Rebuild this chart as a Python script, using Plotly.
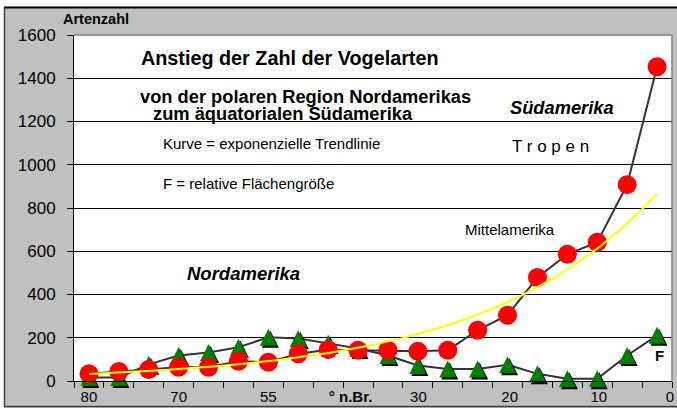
import numpy as np
import plotly.graph_objects as go

# ---- data ----
categories = list(range(1, 21))          # category slots along the latitude axis (north -> equator)
arten = [33, 44, 53, 64, 64, 91, 87, 126, 145, 142, 142, 137, 142, 235, 304, 479, 586, 642, 908, 1453]
flaeche = [16, 16, 77, 118, 132, 156, 202, 197, 174, 150, 118, 72, 56, 56, 75, 33, 10, 10, 118, 211]
tick_labels = ["80", "70", "55", "<b>° n.Br.</b>", "30", "20", "10", "0"]
tick_slots = [1, 4, 7, 9.75, 12.02, 15.07, 18.05, 20.43]

# exponential trend line (least squares on log values, as Excel does)
b, a = np.polyfit(categories, np.log(arten), 1)
x_fit = np.linspace(1, 20, 200)
y_fit = np.exp(a + b * x_fit)

# ---- geometry ----
W, H = 677, 408
L, R, T, B = 74, 5, 35, 27
PW, PH = W - L - R, H - T - B
XR = [0.5, 20.5]
YR = [0, 1600]
kx = (XR[1] - XR[0]) / PW
ky = (YR[1] - YR[0]) / PH
TRI = 17            # triangle marker size (px)
SH = 2              # shadow offset (px)

FONT = "Arial, Liberation Sans, sans-serif"
DARK = "#333333"


def P(px, py):
    return (px - L) / PW, ((H - B) - py) / PH


fig = go.Figure()

# triangle series connecting line (base axes)
fig.add_trace(go.Scatter(x=categories, y=flaeche, mode="lines",
                         line=dict(color=DARK, width=2), cliponaxis=False,
                         hoverinfo="skip", showlegend=False))
# triangle shadows
fig.add_trace(go.Scatter(x=categories, y=flaeche, mode="markers", xaxis="x2", yaxis="y2",
                         marker=dict(symbol="arrow-up", size=TRI, color="black", line=dict(width=0)),
                         cliponaxis=False, hoverinfo="skip", showlegend=False))
# triangles
fig.add_trace(go.Scatter(x=categories, y=flaeche, mode="markers", xaxis="x3", yaxis="y3",
                         marker=dict(symbol="arrow-up", size=TRI, color="#008000", line=dict(width=0)),
                         cliponaxis=False, name="F", showlegend=False))
# species count
fig.add_trace(go.Scatter(x=categories, y=arten, mode="lines+markers", xaxis="x4", yaxis="y4",
                         line=dict(color=DARK, width=2),
                         marker=dict(symbol="circle", size=19, color="#ff0000", line=dict(width=0)),
                         cliponaxis=False, name="Artenzahl", showlegend=False))
# trend line
fig.add_trace(go.Scatter(x=x_fit, y=y_fit, mode="lines", xaxis="x4", yaxis="y4",
                         line=dict(color="#ffff00", width=2), cliponaxis=False,
                         hoverinfo="skip", showlegend=False))

s_tri = (TRI / 2) * ky
s_sh = (TRI / 2 - SH) * ky

hidden = dict(visible=False, showgrid=False, zeroline=False, fixedrange=True, automargin=False)
fig.update_layout(
    template="none",
    width=W, height=H,
    margin=dict(l=L, r=R, t=T, b=B, pad=0, autoexpand=False),
    paper_bgcolor="#c0c0c0", plot_bgcolor="white",
    font=dict(family=FONT, color="black"),
    showlegend=False,
    xaxis=dict(range=XR, automargin=False, showgrid=False, zeroline=False, showline=True,
               linecolor="black", linewidth=1, fixedrange=True,
               tickmode="array", tickvals=tick_slots, ticktext=tick_labels, ticks="",
               tickfont=dict(size=15, family=FONT, color="black"),
               minor=dict(tickmode="array", tickvals=[i + 0.5 for i in range(0, 21)],
                          ticks="outside", ticklen=6, tickcolor="black", tickwidth=1, showgrid=False),
               ticklabelstandoff=2),
    yaxis=dict(range=YR, automargin=False, tickmode="array", tickvals=list(range(0, 1601, 200)),
               showgrid=True, gridcolor="black", gridwidth=1, zeroline=False, fixedrange=True,
               showline=True, linecolor="black", linewidth=1,
               ticks="outside", ticklen=6, tickcolor="black", ticklabelstandoff=8,
               tickfont=dict(size=17, family=FONT, color="black")),
    xaxis2=dict(overlaying="x", range=[XR[0] - SH * kx, XR[1] - SH * kx], **hidden),
    yaxis2=dict(overlaying="y", range=[YR[0] - s_sh, YR[1] - s_sh], **hidden),
    xaxis3=dict(overlaying="x", range=XR, **hidden),
    yaxis3=dict(overlaying="y", range=[YR[0] - s_tri, YR[1] - s_tri], **hidden),
    xaxis4=dict(overlaying="x", range=XR, **hidden),
    yaxis4=dict(overlaying="y", range=YR, **hidden),
)

# chart frame: white margins outside the grey chart area, dark border lines
shapes = []
x0, y0 = P(0, 0)
x1, y1 = P(W, 7)
shapes.append(dict(type="rect", xref="paper", yref="paper", x0=x0, x1=x1, y0=y0, y1=y1,
                   fillcolor="white", line=dict(width=0), layer="below"))
x0, y0 = P(0, 0)
x1, y1 = P(4, H)
shapes.append(dict(type="rect", xref="paper", yref="paper", x0=x0, x1=x1, y0=y0, y1=y1,
                   fillcolor="white", line=dict(width=0), layer="below"))
xa, ya = P(4, 7.5)
xb, _ = P(W, 7.5)
shapes.append(dict(type="line", xref="paper", yref="paper", x0=xa, x1=xb, y0=ya, y1=ya,
                   line=dict(color="black", width=2), layer="below"))
xa, ya = P(4.5, 7)
_, yb = P(4.5, H - 1.5)
shapes.append(dict(type="line", xref="paper", yref="paper", x0=xa, x1=xa, y0=ya, y1=yb,
                   line=dict(color="#404040", width=1.5), layer="below"))
xa, ya = P(4, H - 1.5)
xb, _ = P(W, H - 1.5)
shapes.append(dict(type="line", xref="paper", yref="paper", x0=xa, x1=xb, y0=ya, y1=ya,
                   line=dict(color="#404040", width=1.5), layer="below"))
# plot area border (top and right in grey)
shapes.append(dict(type="line", xref="paper", yref="paper", x0=0, x1=1, y0=1, y1=1,
                   line=dict(color="#808080", width=1.5), layer="above"))
shapes.append(dict(type="line", xref="paper", yref="paper", x0=1, x1=1, y0=0, y1=1,
                   line=dict(color="#808080", width=1.5), layer="above"))
fig.update_layout(shapes=shapes)


def note(text, px, py, size, xanchor="center"):
    x, y = P(px, py)
    fig.add_annotation(text=text, x=x, y=y, xref="paper", yref="paper", showarrow=False,
                       xanchor=xanchor, yanchor="middle",
                       font=dict(family=FONT, size=size, color="black"))


note("<b>Artenzahl</b>", 96, 19, 14.5)
note("<b>Anstieg der Zahl der Vogelarten</b>", 290, 58, 19.8)
note("<b>von der polaren Region Nordamerikas</b>", 305.5, 96, 18.3)
note("<b>zum äquatorialen Südamerika</b>", 282.5, 114, 18.3)
note("Kurve = exponenzielle Trendlinie", 271, 143, 15)
note("F = relative Flächengröße", 248.5, 183, 15)
note("<b><i>Südamerika</i></b>", 562, 107, 18.3)
note("T r o p e n", 550.5, 146, 17)
note("Mittelamerika", 510, 229, 15)
note("<b><i>Nordamerika</i></b>", 243.5, 273, 18.5)
note("<b>F</b>", 659, 355, 15)

fig.write_html("out.html", config={"displayModeBar": False, "staticPlot": True},
               post_script="document.body.style.margin='0';document.body.style.overflow='hidden';")
